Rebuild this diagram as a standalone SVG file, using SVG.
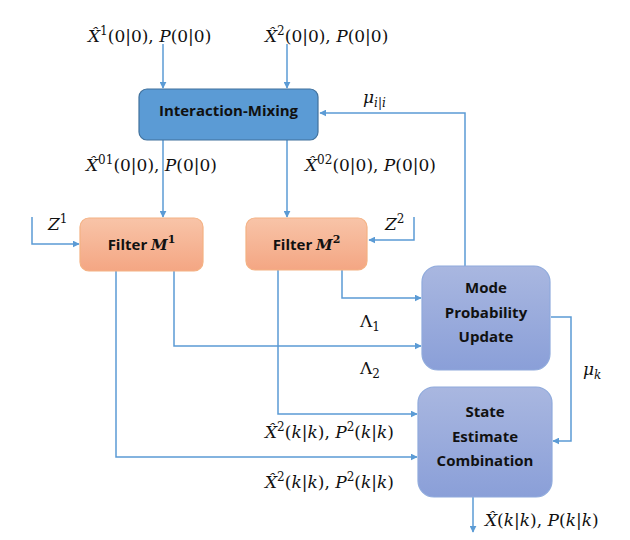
<svg xmlns="http://www.w3.org/2000/svg" width="630" height="540" viewBox="0 0 630 540">
<style>
.ln{fill:none;stroke:#5B9BD5;stroke-width:1.5}
.bx{font-family:"Open Sans","Liberation Sans",sans-serif;font-weight:bold;font-size:15px;fill:#111;text-anchor:middle}
.m{font-family:"DejaVu Serif","Liberation Serif",serif;font-size:17px;fill:#111}
.i{font-style:italic}
.sup{font-size:12px}
</style>
<defs>
<marker id="ah" viewBox="0 0 10 10" refX="9" refY="5" markerWidth="7" markerHeight="7" orient="auto" markerUnits="userSpaceOnUse">
<path d="M0,0 L10,5 L0,10 z" fill="#5B9BD5"/>
</marker>
<linearGradient id="gOr" x1="0" y1="0" x2="0" y2="1">
<stop offset="0" stop-color="#F8C4A8"/>
<stop offset="1" stop-color="#F4A683"/>
</linearGradient>
<linearGradient id="gBl" x1="0" y1="0" x2="0" y2="1">
<stop offset="0" stop-color="#A9B7E0"/>
<stop offset="1" stop-color="#8A9FD8"/>
</linearGradient>
</defs>
<rect width="630" height="540" fill="#fff"/>

<g id="connectors">
<line class="ln" x1="163" y1="44" x2="163" y2="88" marker-end="url(#ah)"/>
<line class="ln" x1="287" y1="44" x2="287" y2="88" marker-end="url(#ah)"/>
<polyline class="ln" points="465,266 465,113 320,113" marker-end="url(#ah)"/>
<line class="ln" x1="163" y1="140" x2="163" y2="217" marker-end="url(#ah)"/>
<line class="ln" x1="287" y1="140" x2="287" y2="217" marker-end="url(#ah)"/>
<polyline class="ln" points="32,217 32,244 79,244" marker-end="url(#ah)"/>
<polyline class="ln" points="414,217 414,240 369,240" marker-end="url(#ah)"/>
<polyline class="ln" points="342,270 342,298 421,298" marker-end="url(#ah)"/>
<polyline class="ln" points="174,271 174,346 421,346" marker-end="url(#ah)"/>
<polyline class="ln" points="278,270 278,414 417,414" marker-end="url(#ah)"/>
<polyline class="ln" points="116,271 116,457 417,457" marker-end="url(#ah)"/>
<polyline class="ln" points="551,317 571,317 571,441 553,441" marker-end="url(#ah)"/>
<line class="ln" x1="473" y1="497" x2="473" y2="532" marker-end="url(#ah)"/>
</g>

<g id="interaction-mixing">
<rect x="139" y="89" width="179" height="51" rx="8" fill="#5B9BD5" stroke="#41719C" stroke-width="1.2"/>
<text class="bx" x="228.5" y="115.5">Interaction-Mixing</text>
</g>
<g id="filter-m1">
<rect x="80" y="218" width="123" height="53" rx="9" fill="url(#gOr)" stroke="#F4B183" stroke-width="1.2"/>
<text class="bx" x="141.5" y="250">Filter <tspan font-family="'DejaVu Serif','Liberation Serif',serif" font-style="italic">M</tspan><tspan font-family="'DejaVu Serif','Liberation Serif',serif" font-size="11px" dy="-7">1</tspan></text>
</g>
<g id="filter-m2">
<rect x="246" y="218" width="121" height="52" rx="9" fill="url(#gOr)" stroke="#F4B183" stroke-width="1.2"/>
<text class="bx" x="306.5" y="250">Filter <tspan font-family="'DejaVu Serif','Liberation Serif',serif" font-style="italic">M</tspan><tspan font-family="'DejaVu Serif','Liberation Serif',serif" font-size="11px" dy="-7">2</tspan></text>
</g>
<g id="mode-probability-update">
<rect x="422" y="266" width="128" height="104" rx="16" fill="url(#gBl)" stroke="#8FAADC" stroke-width="1.2"/>
<text class="bx" x="486" y="293">Mode</text>
<text class="bx" x="486" y="318">Probability</text>
<text class="bx" x="486" y="342">Update</text>
</g>
<g id="state-estimate-combination">
<rect x="418" y="387" width="134" height="110" rx="16" fill="url(#gBl)" stroke="#8FAADC" stroke-width="1.2"/>
<text class="bx" x="485" y="417">State</text>
<text class="bx" x="485" y="442">Estimate</text>
<text class="bx" x="485" y="466">Combination</text>
</g>

<g id="labels">
<text class="m" x="88" y="42"><tspan class="i">X&#x302;</tspan><tspan class="sup" dy="-7">1</tspan><tspan dy="7">(0|0), </tspan><tspan class="i">P</tspan>(0|0)</text>
<text class="m" x="265" y="42"><tspan class="i">X&#x302;</tspan><tspan class="sup" dy="-7">2</tspan><tspan dy="7">(0|0), </tspan><tspan class="i">P</tspan>(0|0)</text>
<text class="m" x="363" y="103"><tspan class="i">μ</tspan><tspan class="sup i" dy="4">i|i</tspan></text>
<text class="m" x="86" y="171"><tspan class="i">X&#x302;</tspan><tspan class="sup" dy="-7">01</tspan><tspan dy="7">(0|0), </tspan><tspan class="i">P</tspan>(0|0)</text>
<text class="m" x="305" y="171"><tspan class="i">X&#x302;</tspan><tspan class="sup" dy="-7">02</tspan><tspan dy="7">(0|0), </tspan><tspan class="i">P</tspan>(0|0)</text>
<text class="m" x="48" y="230"><tspan class="i">Z</tspan><tspan class="sup" dy="-7">1</tspan></text>
<text class="m" x="385" y="230"><tspan class="i">Z</tspan><tspan class="sup" dy="-7">2</tspan></text>
<text class="m" x="360" y="327">Λ<tspan class="sup" dy="4">1</tspan></text>
<text class="m" x="360" y="374">Λ<tspan class="sup" dy="4">2</tspan></text>
<text class="m" x="583" y="375"><tspan class="i">μ</tspan><tspan class="sup i" dy="4">k</tspan></text>
<text class="m" x="265" y="438"><tspan class="i">X&#x302;</tspan><tspan class="sup" dy="-7">2</tspan><tspan dy="7">(</tspan><tspan class="i">k</tspan>|<tspan class="i">k</tspan>), <tspan class="i">P</tspan><tspan class="sup" dy="-7">2</tspan><tspan dy="7">(</tspan><tspan class="i">k</tspan>|<tspan class="i">k</tspan>)</text>
<text class="m" x="265" y="488"><tspan class="i">X&#x302;</tspan><tspan class="sup" dy="-7">2</tspan><tspan dy="7">(</tspan><tspan class="i">k</tspan>|<tspan class="i">k</tspan>), <tspan class="i">P</tspan><tspan class="sup" dy="-7">2</tspan><tspan dy="7">(</tspan><tspan class="i">k</tspan>|<tspan class="i">k</tspan>)</text>
<text class="m" x="485" y="526"><tspan class="i">X&#x302;</tspan>(<tspan class="i">k</tspan>|<tspan class="i">k</tspan>), <tspan class="i">P</tspan>(<tspan class="i">k</tspan>|<tspan class="i">k</tspan>)</text>
</g>
</svg>
